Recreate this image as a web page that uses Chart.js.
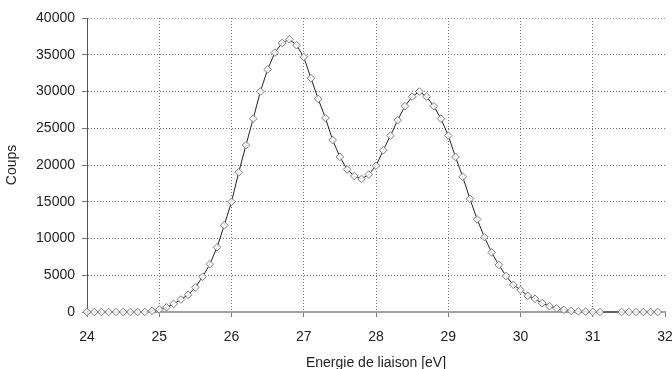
<!DOCTYPE html>
<html>
<head>
<meta charset="utf-8">
<script src="https://cdn.jsdelivr.net/npm/chart.js@4/dist/chart.umd.min.js"></script>
<style>
  html, body { margin: 0; padding: 0; background: #fff; }
  #c { display: block; }
</style>
</head>
<body>
<canvas id="c" width="672" height="369"></canvas>
<script>
// Binding energy (eV) of each measured channel
const energies = [
  24.0, 24.1, 24.2, 24.3, 24.4, 24.5, 24.6, 24.7, 24.8, 24.9,
  25.0, 25.1, 25.2, 25.3, 25.4, 25.5, 25.6, 25.7, 25.8, 25.9,
  26.0, 26.1, 26.2, 26.3, 26.4, 26.5, 26.6, 26.7, 26.8, 26.9,
  27.0, 27.1, 27.2, 27.3, 27.4, 27.5, 27.6, 27.7, 27.8, 27.9,
  28.0, 28.1, 28.2, 28.3, 28.4, 28.5, 28.6, 28.7, 28.8, 28.9,
  29.0, 29.1, 29.2, 29.3, 29.4, 29.5, 29.6, 29.7, 29.8, 29.9,
  30.0, 30.1, 30.2, 30.3, 30.4, 30.5, 30.6, 30.7, 30.8, 30.9,
  31.0, 31.1, 31.4, 31.5, 31.6, 31.7, 31.8, 31.9
];

// Counts recorded at each energy
const counts = [
  0, 0, 0, 0, 0, 0, 0, 0, 0, 150,
  350, 650, 1100, 1700, 2350, 3350, 4800, 6500, 8800, 11800,
  15000, 19000, 22700, 26300, 30000, 33000, 35300, 36600, 37100, 36300,
  34700, 31800, 29000, 26400, 23400, 21100, 19400, 18500, 18100, 18700,
  19900, 22000, 24000, 26100, 28000, 29300, 30000, 29300, 28000, 26300,
  24000, 21100, 18400, 15400, 12600, 10200, 8100, 6400, 4900, 3700,
  3000, 2200, 1800, 1200, 800, 500, 300, 150, 80, 50,
  20, 0, 0, 0, 0, 0, 0, 0
];

// Axis ranges and titles
const xRange = [24, 32];
const yRange = [0, 40000];
const xTitle = 'Energie de liaison [eV]';
const yTitle = 'Coups';

const points = energies.map((e, i) => ({ x: e, y: counts[i] }));
const font = { family: "'Liberation Sans', Arial, sans-serif", size: 14 };
const gridGrey = '#707070';

new Chart(document.getElementById('c'), {
  type: 'line',
  data: {
    datasets: [{
      data: points,
      borderColor: '#222',
      borderWidth: 1,
      pointStyle: 'rectRot',
      pointRadius: 3.8,
      pointBorderWidth: 1,
      pointBorderColor: '#7a7a7a',
      pointBackgroundColor: 'rgba(255,255,255,0.85)',
      tension: 0,
      clip: false
    }]
  },
  options: {
    responsive: false,
    animation: false,
    devicePixelRatio: 1,
    layout: { padding: { left: 0, right: 7, top: 18, bottom: 0 } },
    plugins: { legend: { display: false }, tooltip: { enabled: false } },
    scales: {
      x: {
        type: 'linear',
        min: xRange[0],
        max: xRange[1],
        afterFit: s => { s.height = 57; s.paddingLeft = 0; s.paddingRight = 0; },
        ticks: { stepSize: 1, color: '#222', font, padding: 12, maxRotation: 0,
                 callback: v => String(v) },
        grid: {
          color: c => (c.tick && c.tick.value === xRange[1]) ? 'rgba(0,0,0,0)' : gridGrey,
          lineWidth: 1,
          tickLength: 5,
          tickColor: '#777',
          tickBorderDash: []
        },
        border: { color: '#a0a0a0', width: 2, dash: [1, 2] },
        title: { display: true, text: xTitle, color: '#222', font, padding: { top: 0, bottom: -3 } }
      },
      y: {
        min: yRange[0],
        max: yRange[1],
        afterFit: s => { s.width = 87; s.paddingTop = 0; s.paddingBottom = 0; },
        ticks: { stepSize: 5000, color: '#222', font, padding: 7,
                 callback: v => String(v) },
        grid: {
          color: c => (c.tick && c.tick.value === yRange[1]) ? '#a0a0a0' : gridGrey,
          lineWidth: 1,
          tickLength: 5,
          tickColor: '#777',
          tickBorderDash: []
        },
        border: { color: '#555', width: 1, dash: [1, 2] },
        title: { display: true, text: yTitle, color: '#222', font, padding: { top: 4, bottom: 0 } }
      }
    }
  }
});
</script>
</body>
</html>
